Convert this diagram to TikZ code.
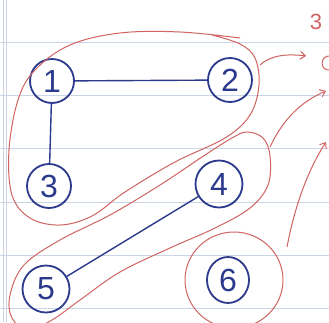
\documentclass[tikz,border=0pt]{standalone}
\usepackage{fontspec}
\setmainfont{Liberation Sans}
\usetikzlibrary{shapes.geometric,arrows.meta}
\definecolor{ink}{HTML}{2B3A8C}
\definecolor{redink}{HTML}{D06462}
\definecolor{ruleblue}{HTML}{CBD5E8}
\begin{document}
\begin{tikzpicture}[x=1pt,y=-1pt,
  vertex/.style={circle,draw=ink,line width=1.8pt,minimum size=44pt,inner sep=0pt,
    text=ink,font=\fontsize{32}{32}\selectfont},
  link/.style={draw=ink,line width=1.4pt},
  group/.style={draw=redink,line width=1pt},
  redarrow/.style={draw=redink,line width=1pt,-{Straight Barb[length=5pt,width=8pt]}},
  ruling/.style={draw=ruleblue,line width=0.6pt}]
\useasboundingbox (0,0) rectangle (329,322);
\clip (0,0) rectangle (329,322);
\fill[white] (0,0) rectangle (329,322);

% notebook paper
\foreach \yy in {42,95,148,202,255,308}
  \draw[ruling] (0,\yy) -- (329,\yy);
\draw[ruling] (3,0) -- (3,322);
\draw[ruling] (6,0) -- (6,322);

% vertices
\node[vertex] (n1) at (52,81) {1};
\node[vertex] (n2) at (230,80) {2};
\node[vertex] (n3) at (49,186) {3};
\node[vertex,minimum size=47pt] (n4) at (219,184) {4};
\node[vertex,minimum size=47pt] (n5) at (46,289) {5};
\node[vertex,ellipse,minimum width=42pt,minimum height=46pt] (n6) at (228,280) {6};

% edges
\draw[link] (n1) -- (n2);
\draw[link] (n1) -- (n3);
\draw[link] (n4) -- (n5);

% connected components
\draw[group] plot[smooth, tension=0.6] coordinates {
  (240,38) (180,32) (120,33) (70,45) (35,70) (18,100) (9,150) (12,195)
  (30,218) (60,225) (92,216) (125,192) (175,162) (225,138) (250,115)
  (259,85) (255,58) (240,44) (212,35)};
\draw[group] plot[smooth cycle, tension=0.6] coordinates {
  (247,132) (263,138) (270,156) (268,185) (250,208) (215,228) (170,248)
  (120,272) (80,300) (52,320) (28,330) (12,318) (10,295) (24,265)
  (60,240) (110,215) (160,185) (205,155) (232,138)};
\draw[group] (234,280) ellipse [x radius=49pt, y radius=48pt];

% arrows to the component count
\coordinate (a1) at (260,65);
\coordinate (b1) at (306,56);
\draw[redarrow] (a1) .. controls (272,54) and (290,54) .. (b1);
\coordinate (a2) at (270,147);
\coordinate (b2) at (326,91);
\draw[redarrow] (a2) .. controls (285,115) and (305,100) .. (b2);
\coordinate (a3) at (287,247);
\coordinate (b3) at (326,142);
\draw[redarrow] (a3) .. controls (295,205) and (308,170) .. (b3);

% count
\node[text=redink,font=\fontsize{22}{22}\selectfont] (cnt) at (316,22) {3};
\draw[group] (330,56) .. controls (320,55) and (319,71) .. (330,70);
\end{tikzpicture}
\end{document}
